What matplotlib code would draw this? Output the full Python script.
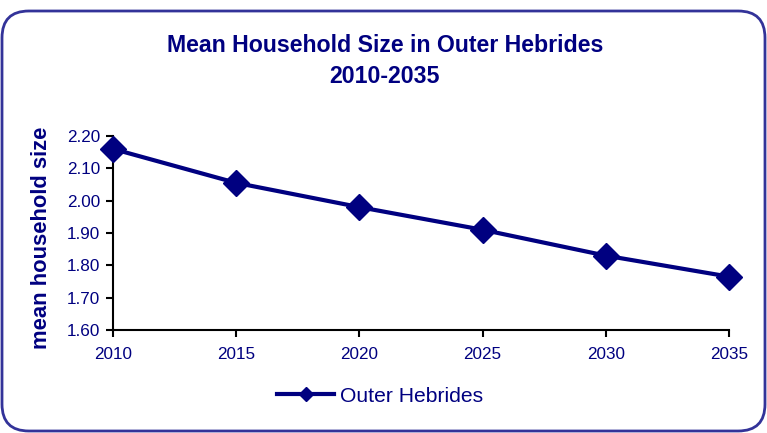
import matplotlib
matplotlib.use("Agg")
import matplotlib.pyplot as plt
from matplotlib.patches import FancyBboxPatch
from matplotlib.lines import Line2D

years = [2010, 2015, 2020, 2025, 2030, 2035]
household_size = [2.16, 2.055, 1.98, 1.91, 1.83, 1.765]
yticks = [1.60, 1.70, 1.80, 1.90, 2.00, 2.10, 2.20]
series_name = "Outer Hebrides"
title = "Mean Household Size in Outer Hebrides\n2010-2035"
ylabel = "mean household size"

navy = "#000080"
W, H = 767, 433
plt.rcParams["font.family"] = ["Liberation Sans", "DejaVu Sans"]
fig = plt.figure(figsize=(W / 100, H / 100), dpi=100)
fig.patch.set_facecolor("white")

# rounded border
border = FancyBboxPatch((2 / W, 2 / H), (W - 4) / W, (H - 13) / H,
                        boxstyle="round,pad=0,rounding_size=0.035",
                        transform=fig.transFigure, facecolor="white",
                        edgecolor="#333399", linewidth=2, mutation_aspect=W / H,
                        zorder=-10)
fig.patches.append(border)

ax = fig.add_axes([113 / W, 1 - 330 / H, (729 - 113) / W, (330 - 136) / H])
ax.set_zorder(5)
ax.patch.set_alpha(0)
ax.plot(years, household_size, color=navy, linewidth=3, marker="D",
        markersize=13, markerfacecolor=navy, markeredgecolor=navy,
        clip_on=False, zorder=5)
ax.set_xlim(2010, 2035)
ax.set_ylim(1.60, 2.20)
ax.set_xticks(years)
ax.set_yticks(yticks)
ax.set_yticklabels([f"{v:.2f}" for v in yticks])
for s in ["top", "right"]:
    ax.spines[s].set_visible(False)
for s in ["left", "bottom"]:
    ax.spines[s].set_color("black")
    ax.spines[s].set_linewidth(1.5)
ax.tick_params(axis="both", direction="out", length=5, width=1.5,
               color="black", labelcolor=navy, labelsize=12.3)
ax.tick_params(axis="x", pad=7)
ax.tick_params(axis="y", pad=4)

fig.text(385 / W, 1 - 61 / H, title, ha="center", va="center",
         fontsize=16.7, fontweight="bold", color=navy, linespacing=1.4)
fig.text(42 / W, 1 - 238 / H, ylabel, ha="center", va="center",
         rotation=90, fontsize=15.8, fontweight="bold", color=navy)

handle = Line2D([], [], color=navy, linewidth=3, marker="D", markersize=7,
                markerfacecolor=navy, markeredgecolor=navy)
fig.legend([handle], [series_name], loc="center", bbox_to_anchor=(380 / W, 1 - 396 / H),
           frameon=False, fontsize=15.2, labelcolor=navy, handlelength=2.7,
           handletextpad=0.25)

fig.savefig("out.png", dpi=100)
